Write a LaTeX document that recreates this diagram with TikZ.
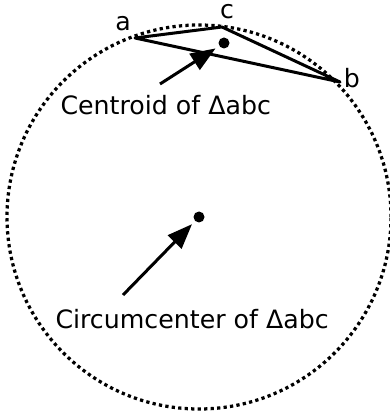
\documentclass[tikz,border=0pt]{standalone}
\usepackage{fontspec}
\setmainfont{DejaVu Sans}
\usetikzlibrary{arrows.meta}

\tikzset{
  dot/.style={circle, fill, inner sep=0pt, minimum size=4.4pt},
  side/.style={line width=1.2pt, line join=round},
  pointer/.style={line width=1.2pt, -{Triangle[length=10pt,width=7.5pt]}},
  lbl/.style={font=\fontsize{10.1}{12}\selectfont, inner sep=0pt},
}

\begin{document}
\begin{tikzpicture}[x=0.4pt, y=-0.4pt]
    \useasboundingbox (0,0) rectangle (389,411);

    % Circumcircle
    \node[dot] (O) at (199,217) {};
    \draw[line width=1.3pt, dash pattern=on 1.3pt off 1.3pt] (O) circle (76.8pt);

    % Triangle abc
    \coordinate (a) at (135,38);
    \coordinate (c) at (222,27);
    \coordinate (b) at (340,82);
    \draw[side] (a) -- (c) -- (b) -- cycle;
    \node[lbl] (la) at (123,24) {a};
    \node[lbl] (lc) at (227,12) {c};
    \node[lbl] (lb) at (352,78) {b};

    % Centroid
    \node[dot] (G) at (224,43) {};
    \coordinate (gtail) at (160,84);
    \draw[pointer, shorten >=1.6pt] (gtail) -- (G);
    \node[lbl, anchor=base west] (gtext) at (60,115) {Centroid of Δabc};

    % Circumcenter
    \coordinate (otail) at (123,295);
    \draw[pointer, shorten >=1.6pt] (otail) -- (O);
    \node[lbl, anchor=base west] (otext) at (55,328) {Circumcenter of Δabc};
\end{tikzpicture}
\end{document}
